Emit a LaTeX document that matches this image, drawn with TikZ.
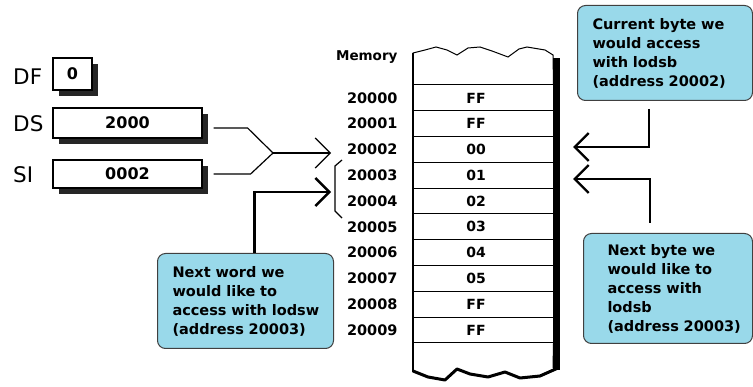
\documentclass[tikz,border=0pt]{standalone}
\usepackage{fontspec}
\setmainfont{DejaVu Sans}
\usetikzlibrary{arrows.meta,shadows}
\definecolor{calloutblue}{RGB}{153,217,234}

\begin{document}
\begin{tikzpicture}[x=1pt,y=-1pt,
    reg/.style={draw,line width=1.2pt,fill=white,inner sep=0pt,
      font=\fontsize{16}{16}\selectfont\bfseries,
      drop shadow={shadow xshift=6pt,shadow yshift=-6pt,fill=black!85,opacity=1}},
    regname/.style={anchor=west,inner xsep=0pt,font=\fontsize{21.5}{21.5}\selectfont},
    cell/.style={draw,line width=1pt,minimum width=140pt,minimum height=25.8pt,inner sep=0pt},
    addr/.style={anchor=east,font=\fontsize{14.5}{14.5}\selectfont\bfseries},
    callout/.style={draw=black!75,line width=1pt,fill=calloutblue,rounded corners=8pt,
      anchor=north west,align=left,inner sep=0pt,
      font=\fontsize{14.5}{19}\selectfont\bfseries},
    link/.style={line width=1.2pt,-{Straight Barb[length=15pt,width=30pt]}},
    boldlink/.style={line width=2.4pt,-{Straight Barb[length=14pt,width=28pt]}}]
            \useasboundingbox (0,0) rectangle (753,387);

            \node[regname] (dfname) at (13,77) {DF};
            \node[regname] (dsname) at (13,124) {DS};
            \node[regname] (siname) at (13,175) {SI};
            \node[reg,minimum width=39pt,minimum height=32pt] (df) at (72.5,74) {0};
            \node[reg,minimum width=149pt,minimum height=30pt] (ds) at (127.5,123) {2000};
            \node[reg,minimum width=149pt,minimum height=28pt] (si) at (127.5,174) {0002};

            \node[anchor=east,font=\fontsize{13.5}{13.5}\selectfont\bfseries] (memname) at (401,57) {Memory};
            \foreach \v [count=\i from 0] in {FF,FF,00,01,02,03,04,05,FF,FF} {
                \node[cell,label={[font=\fontsize{14}{14}\selectfont\bfseries,xshift=-7pt]center:\v}] (m\i) at (483,{97.9+25.8*\i}) {};
                \node[addr] (a\i) at (401,{97.9+25.8*\i}) {2000\i};
            }

            \draw[line width=1pt] (m0.north west) -- (413,53) -- (425,50) -- (436,47) -- (447,50) -- (457,55)
                -- (468,48) -- (480,47) -- (492,51) -- (508,57) -- (519,49) -- (527,47) -- (545,50)
                -- (553,55) -- (m0.north east);
            \draw[line width=1pt] (m9.south west) -- (413,372);
            \draw[line width=1pt] (m9.south east) -- (553,368);
            \draw[line width=2pt] (413,53) -- (413,372);
            \fill (553,58) rectangle (560,370);
            \draw[line width=3pt,line join=round] (413,371) -- (428,377) -- (445,380) -- (457,369) -- (470,374)
                -- (488,377) -- (505,372) -- (520,378) -- (540,376) -- (558,368);

            \node[callout,minimum width=175pt,minimum height=95pt,text width=145pt] (cur) at (577,5)
                {Current byte we\\would access\\with lodsb\\(address~20002)};
            \node[callout,minimum width=176pt,minimum height=95pt,text width=146pt] (word) at (157,253)
                {Next word we\\would like to\\access~with~lodsw\\(address~20003)};
            \node[callout,minimum width=169pt,minimum height=110pt,text width=121pt] (byte) at (583,233)
                {Next byte we\\would like to\\access with\\lodsb\\(address~20003)};

            \coordinate (join) at (273,153);
            \coordinate (dsptr) at (331,153);
            \coordinate (wordptr) at (331,192);
            \coordinate (curptr) at (573,147);
            \coordinate (byteptr) at (573,179);

            \draw[line width=1.2pt] ([xshift=11pt,yshift=-5pt]ds.east) -- ++(34,0) -- (join);
            \draw[line width=1.2pt] ([xshift=11pt]si.east) -- ++(37,0) -- (join);
            \draw[link] (join) -- (dsptr);
            \draw[line width=1.2pt] (342,160) -- (335,166) -- (335,211) -- (342,218);

            \draw[boldlink] ([xshift=9pt]word.north) |- (wordptr);
            \draw[boldlink] ([xshift=-16pt,yshift=-8pt]cur.south) |- (curptr);
            \draw[boldlink] ([xshift=-18pt,yshift=10pt]byte.north) |- (byteptr);
        \end{tikzpicture}
\end{document}
